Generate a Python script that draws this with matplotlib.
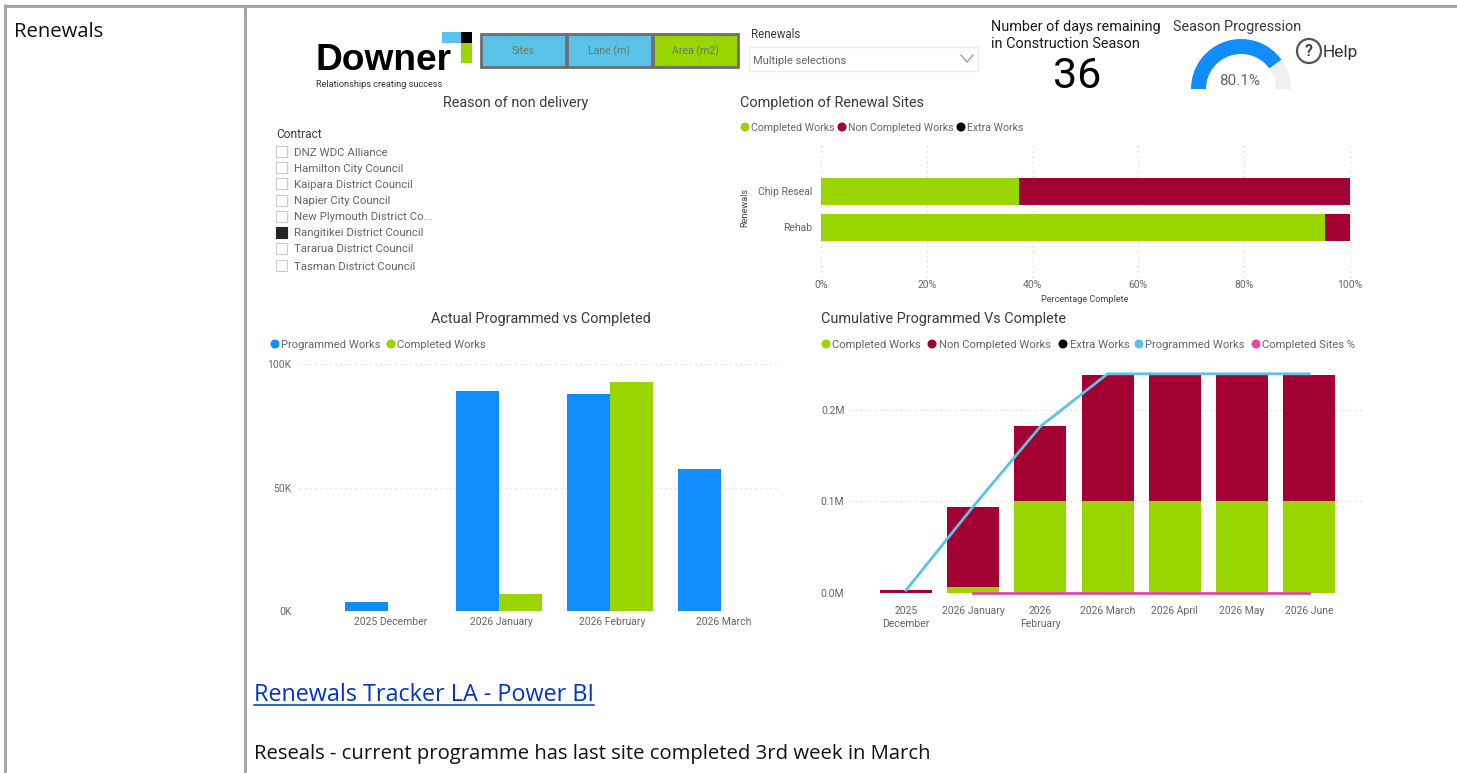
import matplotlib
matplotlib.use('Agg')
import numpy as np
import matplotlib.pyplot as plt
from matplotlib.patches import Rectangle, Wedge, Circle

plt.rcParams['font.family'] = ['Roboto', 'DejaVu Sans']

# Colours
GREEN = '#99D600'
RED = '#A30034'
BLUE = '#118DFF'
LIGHT_BLUE = '#5BC2E7'
PINK = '#E645AB'
GREY_TEXT = '#666666'
DARK_TEXT = '#3A3A3A'
GRID = '#CFCFCF'
DOTS = (0, (1, 3.5))

# Completion of renewal sites (percent)
renewal_types = ['Chip Reseal', 'Rehab']
renewal_completed = [37.4, 95.2]
renewal_non_completed = [62.6, 4.8]
pct_ticks = [0, 20, 40, 60, 80, 100]

# Actual programmed vs completed (area, thousands)
actual_months = ['2025 December', '2026 January', '2026 February', '2026 March']
actual_programmed = [3.8, 89.2, 88.0, 57.4]
actual_completed = [0, 6.7, 92.6, 0]

# Cumulative programmed vs complete (area, millions)
cum_months = ['2025\nDecember', '2026 January', '2026\nFebruary', '2026 March',
              '2026 April', '2026 May', '2026 June']
cum_completed = [0, 0.0062, 0.1, 0.1, 0.1, 0.1, 0.1]
cum_non_completed = [0.0037, 0.0876, 0.082, 0.1387, 0.1387, 0.1387, 0.1387]
cum_programmed = [0.003, 0.0945, 0.182, 0.2395, 0.2395, 0.2395, 0.2395]
cum_sites_pct = [np.nan, 0, 0, 0, 0, 0, 0]

# Slicer and KPI content
contracts = ['DNZ WDC Alliance', 'Hamilton City Council', 'Kaipara District Council',
             'Napier City Council', 'New Plymouth District Co...',
             'Rangitikei District Council', 'Tararua District Council',
             'Tasman District Council']
selected_contract = 'Rangitikei District Council'
days_remaining = 36
season_progress = 80.1

W, H = 1457, 773
DOC_FONT = ['Open Sans', 'DejaVu Sans']
fig = plt.figure(figsize=(W / 100, H / 100), dpi=100, facecolor='white')


def axes_px(left, top, right, bottom):
    """ add an axes given by its pixel box, measured from the top left """
    return fig.add_axes([left / W, 1 - bottom / H, (right - left) / W, (bottom - top) / H])


# Page layer in pixel coordinates, used for all the dashboard furniture
page = fig.add_axes([0, 0, 1, 1])
page.set_xlim(0, W)
page.set_ylim(H, 0)
page.axis('off')


def label(x, y, text, size=8, color=GREY_TEXT, ha='left', **kw):
    page.text(x, y + 1, text, fontsize=size, color=color, ha=ha, va='center', **kw)


def legend_row(y, items, size):
    for cx, tx, colour, text in items:
        page.add_patch(Circle((cx, y), 4.5, color=colour, lw=0))
        label(tx, y, text, size=size)


# Table borders of the document
for x0, y0, x1, y1 in [(4, 5.5, 1457, 5.5), (5, 4, 5, 773), (245, 5, 245, 773)]:
    page.plot([x0, x1], [y0, y1], color='#A6A6A6', lw=2.2, solid_capstyle='butt')

# Document text
label(14, 31, 'Renewals', size=14.6, color='#111111', family=DOC_FONT)
label(254, 694, 'Renewals Tracker LA - Power BI', size=16.8, color='#0033CC', family=DOC_FONT)
page.plot([254, 594], [705, 705], color='#0033CC', lw=1.1)
label(254, 753, 'Reseals - current programme has last site completed 3rd week in March',
      size=14.6, color='#111111', family=DOC_FONT)

# Logo
page.add_patch(Rectangle((442, 32), 19, 11, color=LIGHT_BLUE, lw=0))
page.add_patch(Rectangle((461, 32), 11, 11, color='black', lw=0))
page.add_patch(Rectangle((461, 43), 11, 20, color=GREEN, lw=0))
label(315, 60, 'Downer', size=26.7, color='black', weight='bold',
      family=['Liberation Sans', 'DejaVu Sans'])
label(316, 83.5, 'Relationships creating success', size=6.6, color='#333333')

# Buttons
for x0, x1, fill, text in [(481, 566, LIGHT_BLUE, 'Sites'), (567, 652, LIGHT_BLUE, 'Lane (m)'),
                           (653, 738, GREEN, 'Area (m2)')]:
    page.add_patch(Rectangle((x0, 34), x1 - x0, 33, facecolor=fill, edgecolor='#6E6E6E', lw=2))
    label((x0 + x1) / 2, 50, text, size=7.6, color='#5E7F6F', ha='center')

# Dropdown
label(751, 33, 'Renewals', size=8.3, color=DARK_TEXT)
page.add_patch(Rectangle((749, 47), 229, 24, facecolor='white', edgecolor='#ECECEC', lw=1))
label(753, 60, 'Multiple selections', size=8, color=GREY_TEXT)
page.plot([961, 967, 973], [55, 62, 55], color='#888888', lw=0.8)

# KPI card and gauge
label(991, 26, 'Number of days remaining', size=10.4, color='#1A1A1A')
label(991, 43, 'in Construction Season', size=10.4, color='#1A1A1A')
label(1077, 75, str(days_remaining), size=31, color='black', ha='center')
label(1173, 26, 'Season Progression', size=10.4, color=DARK_TEXT)
gauge_end = 180 + 180 * season_progress / 100
page.add_patch(Wedge((1241, 89), 50, 180, gauge_end, width=15, color=BLUE, lw=0))
page.add_patch(Wedge((1241, 89), 50, gauge_end, 360, width=15, color='#F0F0F0', lw=0))
label(1240, 80, f'{season_progress}%', size=11, ha='center')

# Help button
page.add_patch(Circle((1309, 51), 12, facecolor='white', edgecolor='#555555', lw=1.6))
label(1309, 50, '?', size=11.5, color='#444444', ha='center', weight='bold')
label(1323, 51, 'Help', size=12.5, color='#333333')

# Contract slicer
label(276, 134, 'Contract', size=8.6, color=DARK_TEXT)
slicer_y = [152, 168, 184, 201, 217, 233, 249, 266]
for name, y in zip(contracts, slicer_y):
    on = name == selected_contract
    page.add_patch(Rectangle((276, y - 6), 11, 11, facecolor='#252423' if on else 'white',
                             edgecolor='#252423' if on else '#CCCCCC', lw=0.8))
    label(294, y - 0.5, name, size=8.2)

# Titles and legends
label(515.5, 102, 'Reason of non delivery', size=10.4, color=DARK_TEXT, ha='center')
label(740, 102, 'Completion of Renewal Sites', size=10.4, color=DARK_TEXT)
label(540.5, 317.5, 'Actual Programmed vs Completed', size=10.4, color=DARK_TEXT, ha='center')
label(821, 317.5, 'Cumulative Programmed Vs Complete', size=10.4, color=DARK_TEXT)
legend_row(127, [(745, 751, GREEN, 'Completed Works'), (842, 848, RED, 'Non Completed Works'),
                 (961, 967, 'black', 'Extra Works')], 7.6)
legend_row(344, [(275, 281, BLUE, 'Programmed Works'), (391, 397, GREEN, 'Completed Works')], 8.1)
legend_row(344, [(826, 832, GREEN, 'Completed Works'), (932, 939, RED, 'Non Completed Works'),
                 (1063, 1070, 'black', 'Extra Works'), (1139, 1145, LIGHT_BLUE, 'Programmed Works'),
                 (1256, 1262, PINK, 'Completed Sites %')], 8.1)


def clean_axes(ax):
    for side in ax.spines:
        ax.spines[side].set_visible(False)
    ax.set_facecolor('none')
    ax.set_axisbelow(True)
    ax.tick_params(length=0, labelsize=7.5, labelcolor=GREY_TEXT)


# Completion of renewal sites
ax1 = axes_px(821, 145, 1350, 277)
clean_axes(ax1)
rows = np.arange(len(renewal_types))
ax1.barh(rows, renewal_completed, height=0.75, color=GREEN)
ax1.barh(rows, renewal_non_completed, height=0.75, left=renewal_completed, color=RED)
ax1.set_xlim(0, 100)
ax1.set_ylim(2.375, -1.29)
ax1.set_yticks(rows, renewal_types)
ax1.set_xticks(pct_ticks, [f'{p}%' for p in pct_ticks])
ax1.tick_params(axis='y', pad=6)
ax1.tick_params(axis='x', pad=2)
ax1.grid(axis='x', color=GRID, ls=DOTS, lw=0.8, clip_on=False)
label(1085, 298, 'Percentage Complete', size=6.6, color='#444444', ha='center')
page.text(745, 207, 'Renewals', fontsize=6.6, color='#444444', rotation=90, ha='center', va='center')

# Actual programmed vs completed
ax2 = axes_px(300, 364, 780, 611)
clean_axes(ax2)
x = np.arange(len(actual_months))
bar_w = 0.383
ax2.bar(x - bar_w / 2, actual_programmed, bar_w, color=BLUE)
ax2.bar(x + bar_w / 2, actual_completed, bar_w, color=GREEN)
ax2.set_xlim((300 - 388) / 111, (780 - 388) / 111)
ax2.set_ylim(0, 100)
ax2.set_yticks([0, 50, 100], ['0K', '50K', '100K'])
ax2.set_xticks(x + 0.02, actual_months)
ax2.tick_params(axis='y', pad=6)
ax2.tick_params(axis='x', pad=4)
ax2.grid(axis='y', color=GRID, ls=DOTS, lw=0.8)

# Cumulative programmed vs complete
ax3 = axes_px(850, 374, 1362, 593)
clean_axes(ax3)
x = np.arange(len(cum_months))
bar_w = 0.774
ax3.bar(x, cum_completed, bar_w, color=GREEN)
ax3.bar(x, cum_non_completed, bar_w, bottom=cum_completed, color=RED)
ax3.plot(x, cum_programmed, color=LIGHT_BLUE, lw=2, clip_on=False)
ax3.plot(x, cum_sites_pct, color=PINK, lw=2, clip_on=False)
ax3.set_xlim((850 - 906) / 67.2, (1362 - 906) / 67.2)
ax3.set_ylim(0, 0.2393)
ax3.set_yticks([0, 0.1, 0.2], ['0.0M', '0.1M', '0.2M'])
ax3.set_xticks(x, cum_months, linespacing=1.45)
ax3.tick_params(axis='y', pad=4)
ax3.tick_params(axis='x', pad=9)
ax3.grid(axis='y', color=GRID, ls=DOTS, lw=0.8)

plt.savefig('out.png', dpi=100)
